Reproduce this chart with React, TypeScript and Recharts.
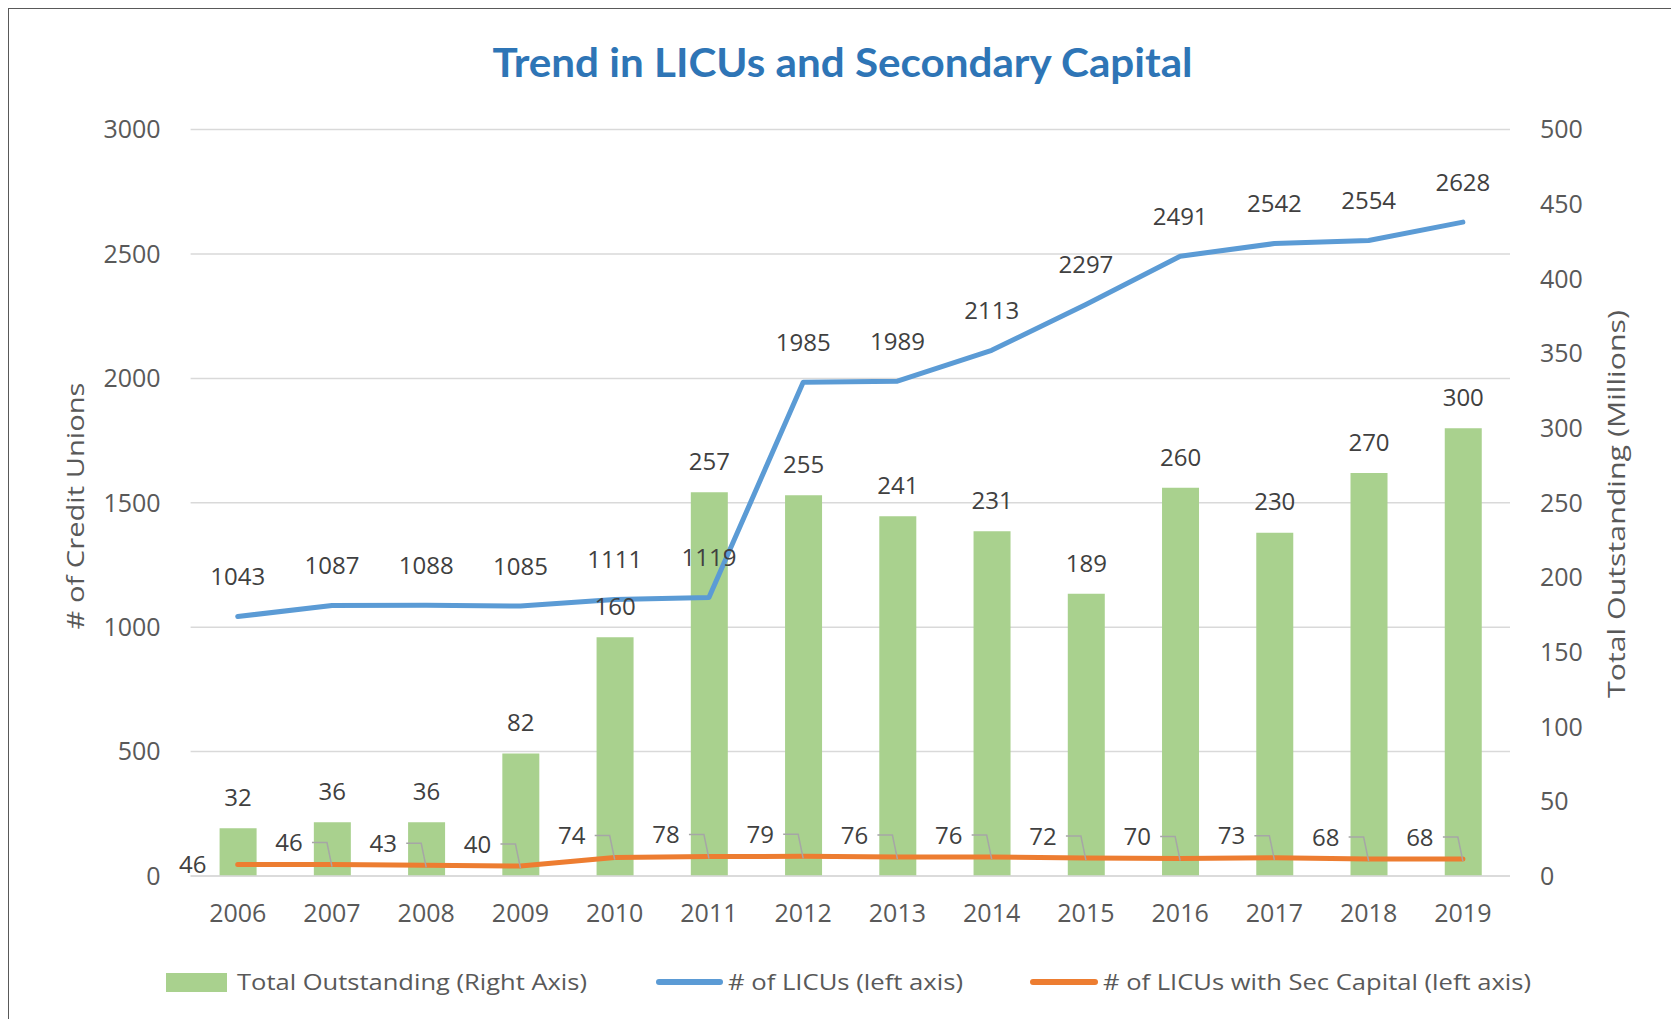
import { ComposedChart, Bar, Line, XAxis, YAxis, CartesianGrid, LabelList } from 'recharts'

const years = ['2006', '2007', '2008', '2009', '2010', '2011', '2012', '2013', '2014', '2015', '2016', '2017', '2018', '2019']
const totalOutstanding = [32, 36, 36, 82, 160, 257, 255, 241, 231, 189, 260, 230, 270, 300]
const licuCount = [1043, 1087, 1088, 1085, 1111, 1119, 1985, 1989, 2113, 2297, 2491, 2542, 2554, 2628]
const secCapitalCount = [46, 46, 43, 40, 74, 78, 79, 76, 76, 72, 70, 73, 68, 68]
const leftTicks = [0, 500, 1000, 1500, 2000, 2500, 3000]
const rightTicks = [0, 50, 100, 150, 200, 250, 300, 350, 400, 450, 500]

const data = years.map((year, i) => ({
  year,
  total: totalOutstanding[i],
  licus: licuCount[i],
  sec: secCapitalCount[i],
}))

const FONT = '"Open Sans", sans-serif'
const tickStyle = { fill: '#595959', fontSize: 25, fontFamily: FONT }
const labelText = { fill: '#404040', fontSize: 24, fontFamily: FONT }

// labels above bars
const BarLabel = (props: any) => {
  const { x, y, width, value } = props
  return (
    <text x={x + width / 2} y={y - 31} dy="0.36em" textAnchor="middle" {...labelText}>
      {value}
    </text>
  )
}

// labels above blue line points
const LicuLabel = (props: any) => {
  const { x, y, value } = props
  return (
    <text x={x} y={y - 40} dy="0.36em" textAnchor="middle" {...labelText}>
      {value}
    </text>
  )
}

// orange labels sit up-left of the point with a small leader line
const SecLabel = (props: any) => {
  const { x, y, value, index } = props
  if (index === 0) {
    return (
      <text x={x - 45} y={y} dy="0.36em" textAnchor="middle" {...labelText}>
        {value}
      </text>
    )
  }
  const ly = y - 22
  return (
    <g>
      <path d={`M${x - 20},${ly} L${x - 5},${ly} L${x},${y + 2}`} stroke="#a6a6a6" strokeWidth={1.5} fill="none" />
      <text x={x - 43} y={ly} dy="0.36em" textAnchor="middle" {...labelText}>
        {value}
      </text>
    </g>
  )
}

export default function App() {
  const W = 1663
  const H = 1018

  return (
    <div style={{ position: 'relative', width: 1665, height: 1019, marginBottom: -8, overflow: 'hidden' }}>
      <div
        style={{
          position: 'absolute',
          left: 0,
          top: 0,
          width: W,
          height: 1040,
          border: '1px solid #595959',
          background: '#fff',
        }}
      >
        <ComposedChart
          width={W}
          height={H}
          data={data}
          margin={{ top: 120.6, right: 0, bottom: 91, left: 0 }}
        >
          <CartesianGrid vertical={false} stroke="#d9d9d9" strokeWidth={1.5} yAxisId="left" />
          <XAxis
            dataKey="year"
            height={60}
            axisLine={{ stroke: '#d9d9d9', strokeWidth: 1.5 }}
            tickLine={false}
            tickSize={0}
            tickMargin={28}
            tick={tickStyle}
            interval={0}
          />
          <YAxis
            yAxisId="left"
            width={181.6}
            domain={[0, 3000]}
            ticks={leftTicks}
            axisLine={false}
            tickLine={false}
            tickSize={0}
            tickMargin={30}
            tick={tickStyle}
          />
          <YAxis
            yAxisId="right"
            orientation="right"
            width={162}
            domain={[0, 500]}
            ticks={rightTicks}
            axisLine={false}
            tickLine={false}
            tickSize={0}
            tickMargin={30}
            tick={{ ...tickStyle, textAnchor: 'start' }}
          />
          <Bar yAxisId="right" dataKey="total" fill="#A9D18E" barSize={37} isAnimationActive={false}>
            <LabelList dataKey="total" content={BarLabel} />
          </Bar>
          <Line
            yAxisId="left"
            type="linear"
            dataKey="licus"
            stroke="#5B9BD5"
            strokeWidth={5}
            strokeLinecap="round"
            strokeLinejoin="round"
            dot={false}
            activeDot={false}
            isAnimationActive={false}
          >
            <LabelList dataKey="licus" content={LicuLabel} />
          </Line>
          <Line
            yAxisId="left"
            type="linear"
            dataKey="sec"
            stroke="#ED7D31"
            strokeWidth={5}
            strokeLinecap="round"
            strokeLinejoin="round"
            dot={false}
            activeDot={false}
            isAnimationActive={false}
          >
            <LabelList dataKey="sec" content={SecLabel} />
          </Line>
        </ComposedChart>

        {/* title, axis titles and legend */}
        <svg
          width={W}
          height={H}
          style={{ position: 'absolute', left: 0, top: 0, pointerEvents: 'none' }}
        >
          <text
            x={483.6}
            y={68}
            fill="#2E75B6"
            fontSize={40}
            fontWeight={700}
            fontFamily='Lato, "Open Sans", sans-serif'
            textLength={700}
            lengthAdjust="spacingAndGlyphs"
          >
            Trend in LICUs and Secondary Capital
          </text>
          <text
            transform="translate(66,497) rotate(-90)"
            textAnchor="middle"
            dy="0.36em"
            fill="#595959"
            fontSize={24}
            fontFamily={FONT}
            textLength={247}
            lengthAdjust="spacingAndGlyphs"
          >
            # of Credit Unions
          </text>
          <text
            transform="translate(1607,495) rotate(-90)"
            textAnchor="middle"
            dy="0.36em"
            fill="#595959"
            fontSize={24}
            fontFamily={FONT}
            textLength={388}
            lengthAdjust="spacingAndGlyphs"
          >
            Total Outstanding (Millions)
          </text>

          <rect x={157} y={964} width={61} height={19} fill="#A9D18E" />
          <text x={228} y={973} dy="0.36em" fill="#595959" fontSize={22} fontFamily={FONT} textLength={350} lengthAdjust="spacingAndGlyphs">
            Total Outstanding (Right Axis)
          </text>
          <line x1={650} y1={973} x2={711} y2={973} stroke="#5B9BD5" strokeWidth={6} strokeLinecap="round" />
          <text x={719} y={973} dy="0.36em" fill="#595959" fontSize={22} fontFamily={FONT} textLength={235} lengthAdjust="spacingAndGlyphs">
            # of LICUs (left axis)
          </text>
          <line x1={1024} y1={973} x2={1086} y2={973} stroke="#ED7D31" strokeWidth={6} strokeLinecap="round" />
          <text x={1094} y={973} dy="0.36em" fill="#595959" fontSize={22} fontFamily={FONT} textLength={428} lengthAdjust="spacingAndGlyphs">
            # of LICUs with Sec Capital (left axis)
          </text>
        </svg>
      </div>
    </div>
  )
}
